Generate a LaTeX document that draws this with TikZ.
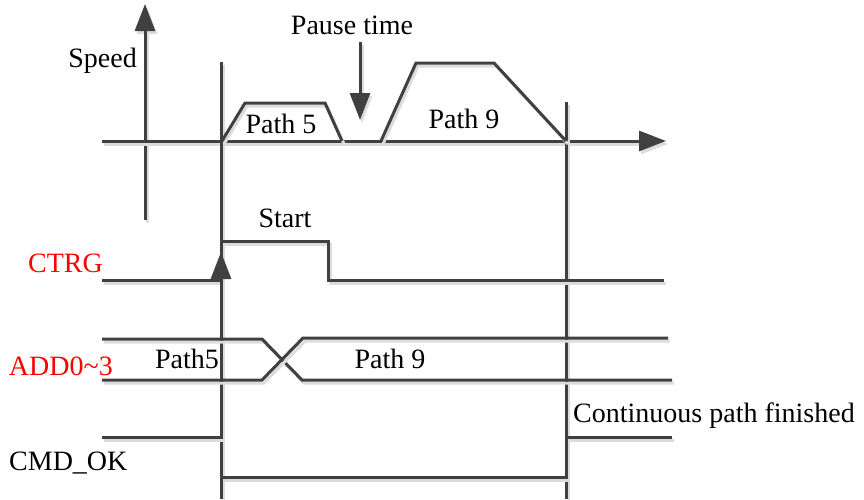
\documentclass[tikz,border=0pt]{standalone}
\usepackage{fontspec}
\setmainfont{Liberation Serif}
\usetikzlibrary{arrows.meta}
\definecolor{linec}{HTML}{404040}
\definecolor{shad}{HTML}{DCDCDC}
\definecolor{lblred}{HTML}{FF0000}
\tikzset{
  sig/.style={draw=linec, line width=3pt, line join=miter,
    preaction={draw=shad, line width=3pt, transform canvas={shift={(2pt,-3pt)}}}},
  tip/.style={-{Triangle[length=27pt,width=20pt]}},
  lbl/.style={font=\fontsize{28}{33}\selectfont, inner sep=0pt, text=black},
  redlbl/.style={lbl, text=lblred}
}
\begin{document}
\begin{tikzpicture}[x=1pt,y=-1pt]
\useasboundingbox (0,0) rectangle (864,499);
% named coordinates
\coordinate (vsb) at (145,220); \coordinate (vst) at (145,4);
\coordinate (tl) at (102,141);  \coordinate (tr) at (666,141);
\coordinate (v1t) at (221,62);  \coordinate (v1b) at (221,499);
\coordinate (v2t) at (566,102); \coordinate (v2b) at (566,499);
\coordinate (pt) at (360,42);   \coordinate (pb) at (360,120);
% speed axes
\draw[sig,tip] (vsb) -- (vst);
\draw[sig,tip] (tl) -- (tr);
\draw[sig] (v1t) -- (v1b);
\draw[sig] (v2t) -- (v2b);
% trapezoids
\draw[sig] (222,141) -- (245,103) -- (325,103) -- (342,141);
\draw[sig] (381,141) -- (416,63) -- (494,63) -- (566,141);
% pause arrow
\draw[sig,tip] (pt) -- (pb);
% CTRG
\draw[sig] (102,280) -- (221,280);
\draw[sig] (221,241) -- (328,241) -- (328,280) -- (664,280);
\coordinate (ctb) at (221,300); \coordinate (ctt) at (221,252);
\draw[draw=linec, line width=3pt, tip] (ctb) -- (ctt);
% ADD0~3
\draw[sig] (102,339) -- (262,339) -- (302,380) -- (672,380);
\draw[sig] (102,380) -- (262,380) -- (303,338) -- (668,338);
% CMD_OK
\draw[sig] (102,437) -- (221,437);
\draw[sig] (221,477) -- (566,477);
\draw[sig] (566,437) -- (672,437);
% texts
\node[lbl, anchor=east] (speed) at (137,61) {Speed};
\node[lbl] (pause) at (352,25) {Pause time};
\node[lbl] (p5) at (281,124) {Path 5};
\node[lbl] (p9) at (464,119) {Path 9};
\node[lbl] (start) at (285,218) {Start};
\node[redlbl, anchor=east] (ctrg) at (103,263) {CTRG};
\node[redlbl, anchor=east] (add) at (113,366) {ADD0\textasciitilde3};
\node[lbl] (p5b) at (187,359) {Path5};
\node[lbl] (p9b) at (390,359) {Path 9};
\node[lbl, anchor=west] (cont) at (573,416) {Continuous path finished};
\node[lbl, anchor=west] (cmd) at (9,463) {CMD\_OK};
\end{tikzpicture}
\end{document}
